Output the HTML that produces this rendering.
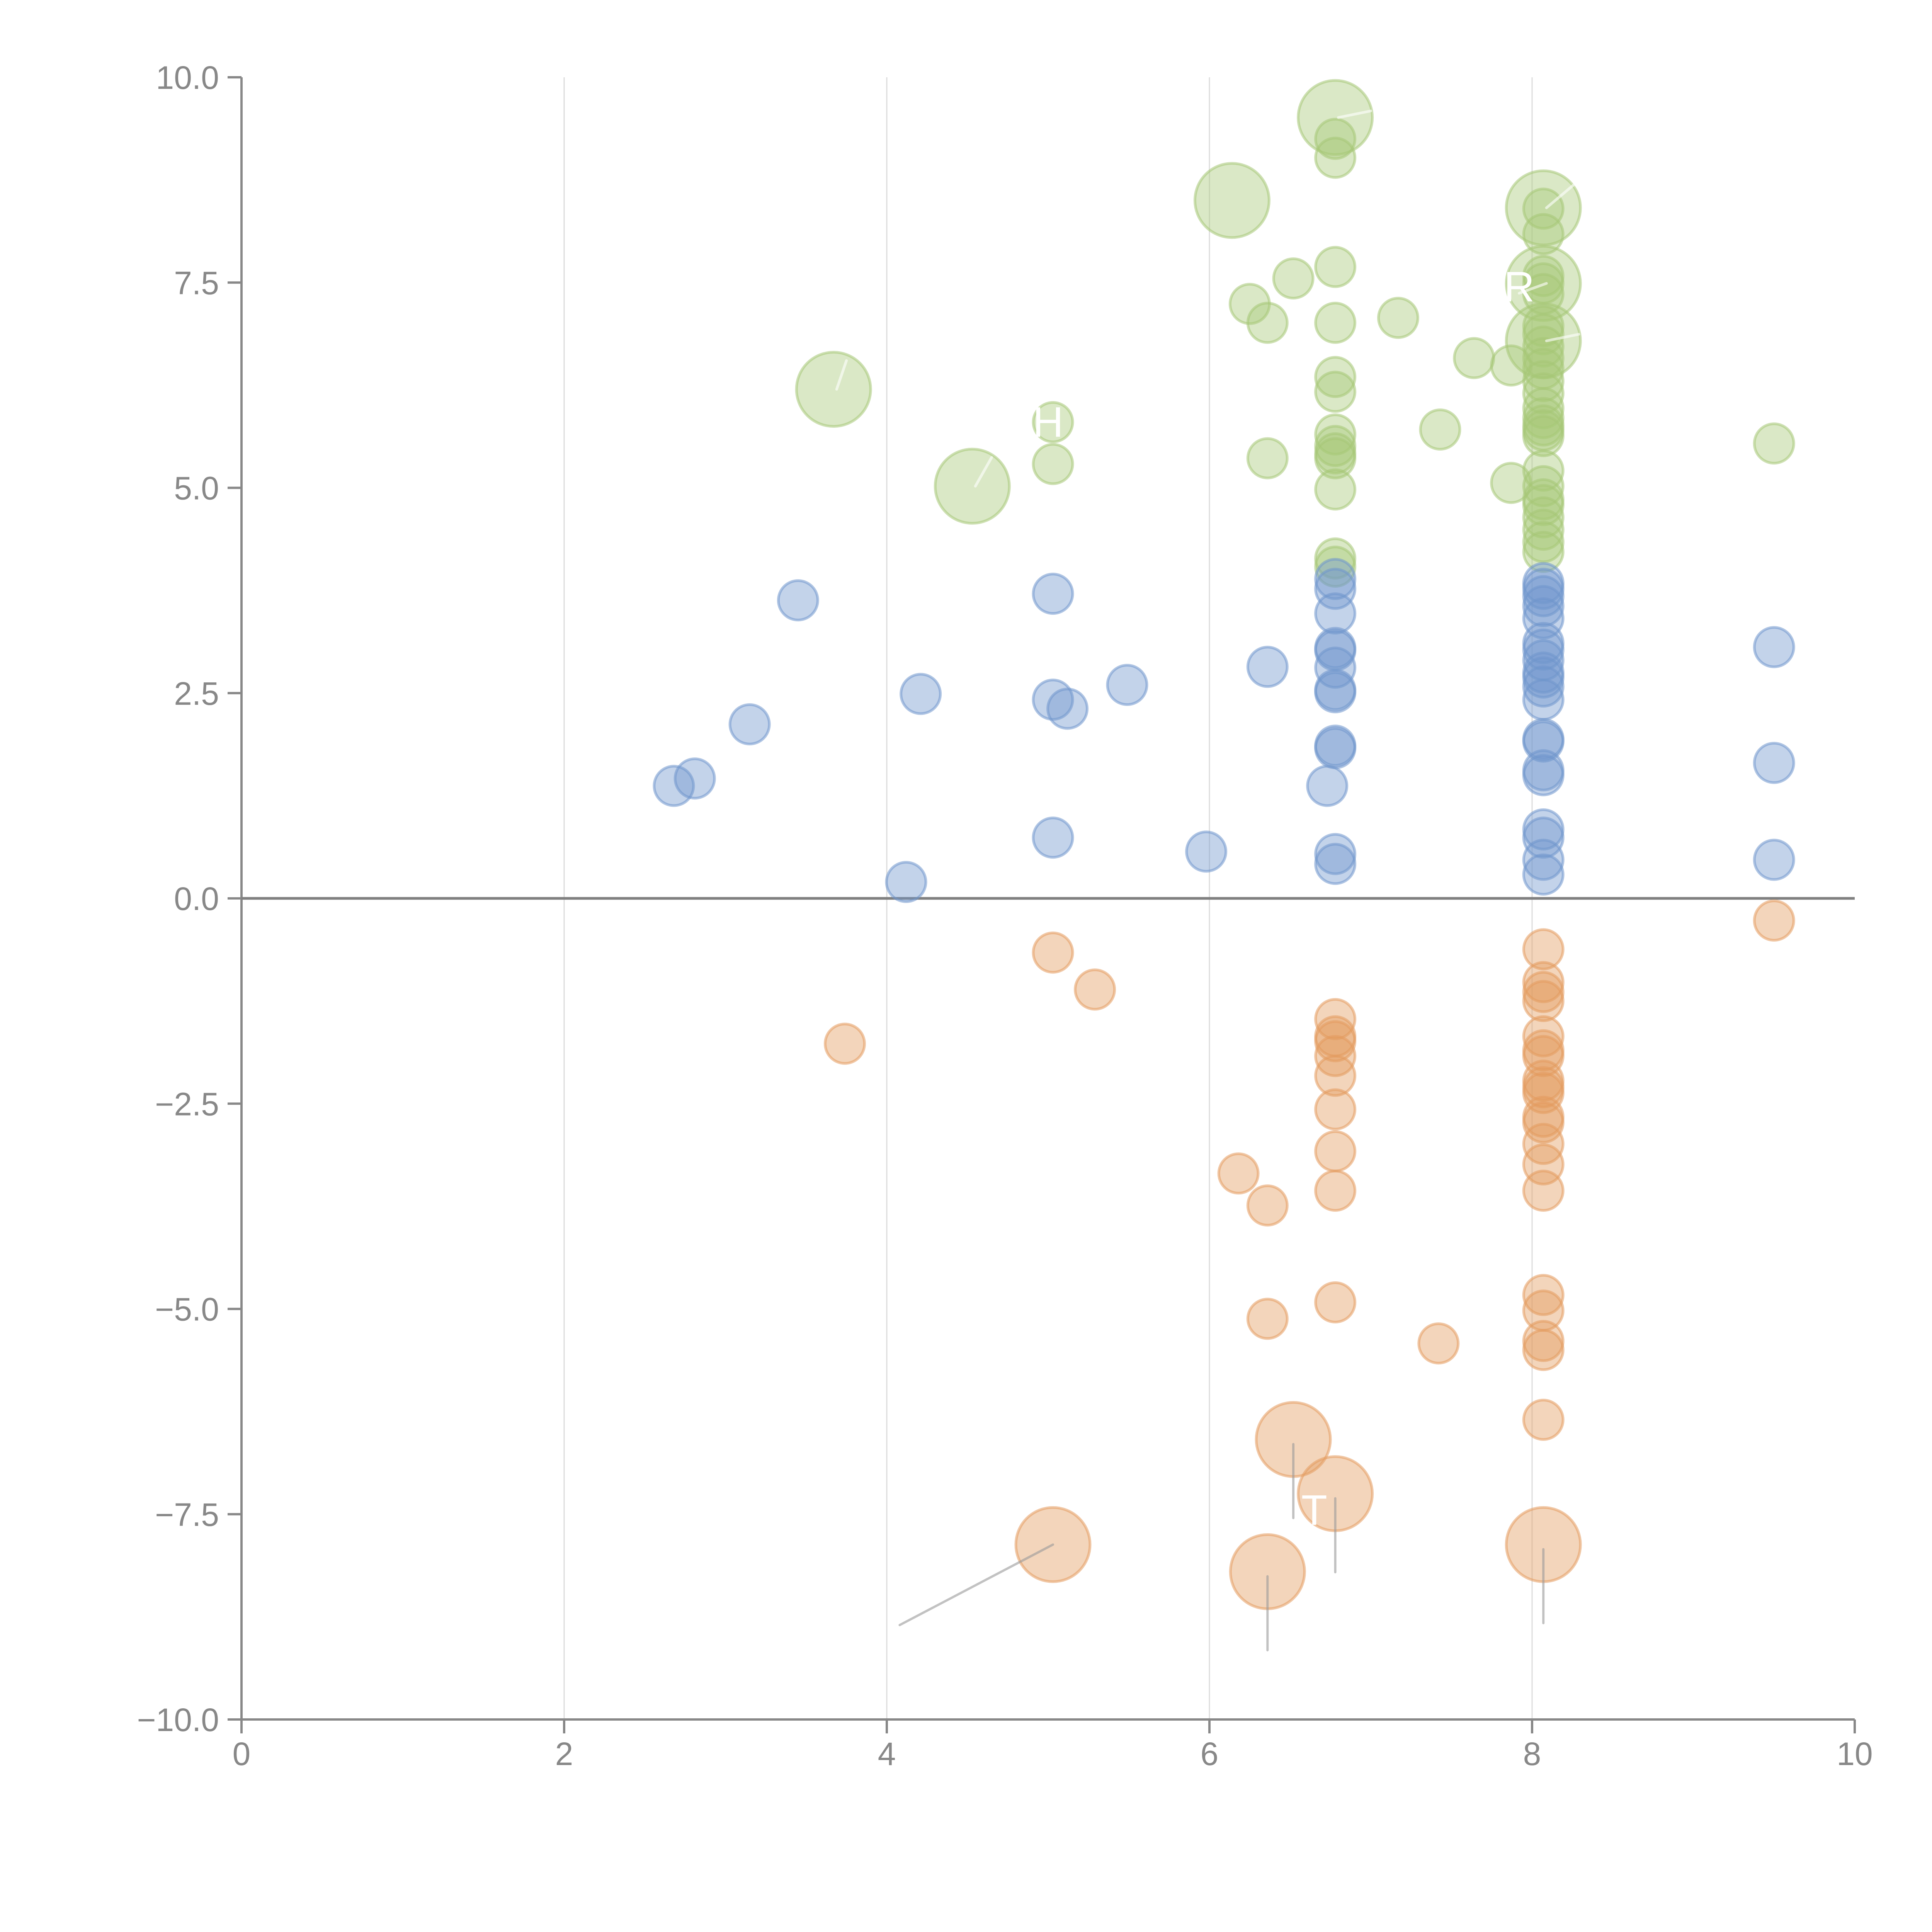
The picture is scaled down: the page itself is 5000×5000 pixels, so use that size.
<!DOCTYPE html>
<html><head><meta charset="utf-8"><style>
html,body{margin:0;padding:0;background:#fff;}
svg{display:block;font-family:"Liberation Sans",Arial,sans-serif;}
</style></head><body>
<svg id="chart" width="5000" height="5000" viewBox="0 0 5000 5000" xmlns="http://www.w3.org/2000/svg">
<g id="grid"></g>
<g id="axes"></g>
<g id="marks"></g>
<g id="labels"></g>
</svg>
<script>
const xTicks=[0,2,4,6,8,10];
const xTickLabels=["0","2","4","6","8","10"];
const yTicks=[-10,-7.5,-5,-2.5,0,2.5,5,7.5,10];
const yTickLabels=["\u221210.0","\u22127.5","\u22125.0","\u22122.5","0.0","2.5","5.0","7.5","10.0"];

const blueX=[2.68,2.81,3.15,3.45,4.12,4.21,5.03,5.03,5.12,5.03,5.49,5.98,6.36,6.73,
6.78,6.78,6.78,6.78,6.78,6.78,6.78,6.78,6.78,6.78,6.78,6.78,
8.07,8.07,8.07,8.07,8.07,8.07,8.07,8.07,8.07,8.07,8.07,8.07,8.07,8.07,8.07,8.07,8.07,8.07,8.07,8.07,
9.5,9.5,9.5];
const blueY=[1.37,1.46,2.12,3.63,0.2,2.49,3.71,2.42,2.31,0.74,2.6,0.57,2.82,1.37,
3.89,3.77,3.47,3.05,3.02,2.81,2.54,2.51,1.86,1.83,0.54,0.42,
3.84,3.77,3.68,3.56,3.41,3.11,3.03,2.9,2.75,2.69,2.58,2.42,1.94,1.91,1.56,1.5,0.84,0.74,0.47,0.29,
3.06,1.65,0.47];

const orangeX=[9.5,5.03,5.29,3.74,6.18,6.36,6.36,7.42,
6.78,6.78,6.78,6.78,6.78,6.78,6.78,6.78,6.78,
8.07,8.07,8.07,8.07,8.07,8.07,8.07,8.07,8.07,8.07,8.07,8.07,8.07,8.07,8.07,8.07,8.07,8.07,8.07,8.07];
const orangeY=[-0.27,-0.66,-1.11,-1.77,-3.35,-3.74,-5.12,-5.42,
-1.47,-1.68,-1.74,-1.92,-2.16,-2.57,-3.08,-3.56,-4.92,
-0.62,-1.02,-1.14,-1.25,-1.68,-1.85,-1.92,-2.22,-2.3,-2.37,-2.66,-2.73,-2.99,-3.24,-3.56,-4.83,-5.02,-5.39,-5.5,-6.35];
const orangeBigX=[5.03,6.52,6.78,6.36,8.07];
const orangeBigY=[-7.87,-6.59,-7.25,-8.2,-7.87];

const greenX=[6.78,6.78,8.07,8.07,8.07,8.07,8.07,
8.07,8.07,8.07,8.07,8.07,8.07,8.07,8.07,8.07,8.07,8.07,8.07,
6.78,6.52,6.25,6.36,6.78,7.17,7.64,7.87,6.78,6.78,5.03,5.03,6.36,
6.78,6.78,6.78,6.78,6.78,7.43,7.87,9.5,6.78,6.78,
8.07,8.07,8.07,8.07,8.07,8.07,8.07,8.07];
const greenY=[9.25,9.02,8.4,8.09,7.58,7.49,7.36,
6.97,6.87,6.72,6.58,6.45,6.3,6.15,5.97,5.85,5.76,5.7,5.63,
7.69,7.55,7.24,7.01,7.01,7.07,6.58,6.49,6.35,6.17,5.8,5.29,5.36,
5.65,5.51,5.42,5.36,4.98,5.71,5.06,5.54,4.14,4.04,
5.21,5.02,4.86,4.79,4.64,4.49,4.34,4.22];
const greenBigX=[6.78,6.14,8.07,8.07,8.07,3.67,4.53];
const greenBigY=[9.51,8.5,8.41,7.49,6.79,6.2,5.02];

const X0=625,X1=4800,Y0=4450,Y1=200;
function sx(v){return X0+(v-0)/(10-0)*(X1-X0);}
function sy(v){return Y0-(v+10)/20*(Y0-Y1);}
const NS="http://www.w3.org/2000/svg";
function mk(tag,attrs,parent){const e=document.createElementNS(NS,tag);for(const k in attrs)e.setAttribute(k,attrs[k]);parent.appendChild(e);return e;}
const grid=document.getElementById('grid'),axes=document.getElementById('axes'),marks=document.getElementById('marks'),labels=document.getElementById('labels');

xTicks.forEach((t,i)=>{
  if(t>0&&t<10){const g=mk('line',{x1:sx(t),x2:sx(t),y1:Y1,y2:Y0,stroke:'#dcdcdc','stroke-width':3},grid);
  
  }
  const tk=mk('line',{x1:sx(t),x2:sx(t),y1:Y0,y2:Y0+36,stroke:'#888','stroke-width':6},axes);
  
  
  const tx=mk('text',{x:sx(t),y:Y0+118,'text-anchor':'middle','font-size':84,fill:'#888'},axes);
  tx.textContent=xTickLabels[i];
  
  
});
yTicks.forEach((t,i)=>{
  const tk=mk('line',{x1:X0-36,x2:X0,y1:sy(t),y2:sy(t),stroke:'#888','stroke-width':6},axes);
  
  
  const tx=mk('text',{x:X0-58,y:sy(t)+30,'text-anchor':'end','font-size':84,fill:'#888'},axes);
  tx.textContent=yTickLabels[i];
  
  
});
const ya=mk('line',{x1:X0,x2:X0,y1:Y1,y2:Y0,stroke:'#888','stroke-width':6},axes);


const xa=mk('line',{x1:X0,x2:X1,y1:Y0,y2:Y0,stroke:'#888','stroke-width':6},axes);


const zl=mk('line',{x1:X0,x2:X1,y1:sy(0),y2:sy(0),stroke:'#808080','stroke-width':7},axes);



function bubbles(xs,ys,r,fill,stroke,name){
  xs.forEach((x,i)=>{
    const c=mk('circle',{cx:sx(x),cy:sy(ys[i]),r:r,fill:fill,'fill-opacity':0.42,stroke:stroke,'stroke-opacity':0.55,'stroke-width':7},marks);
    
    
  });
}
const BLUE='#6f96cc',ORANGE='#e39a5e',GREEN='#a6c777';
bubbles(greenBigX,greenBigY,96,GREEN,GREEN,'green-bubble-large');
bubbles(greenX,greenY,51,GREEN,GREEN,'green-bubble');
bubbles(blueX,blueY,51,BLUE,BLUE,'blue-bubble');
bubbles(orangeX,orangeY,51,ORANGE,ORANGE,'orange-bubble');
bubbles(orangeBigX,orangeBigY,96,ORANGE,ORANGE,'orange-bubble-large');

// leader lines for large orange bubbles
const leadDX=[-0.95,0,0,0,0];
const leadDY=[-0.98,-0.9,-0.9,-0.9,-0.9];
orangeBigX.forEach((x,i)=>{
  const l=mk('line',{x1:sx(x),y1:sy(orangeBigY[i])+(i==0?0:12),x2:sx(x+leadDX[i]),y2:sy(orangeBigY[i]+leadDY[i])+(i==0?0:12),stroke:'#999','stroke-opacity':0.6,'stroke-width':6,'stroke-linecap':'round'},labels);
  
  
});
// white leader lines in large green bubbles
const gLeadDX=[0.22,0,0.2,-0.15,0.22,0.08,0.12];
const gLeadDY=[0.08,0,0.3,-0.12,0.08,0.35,0.35];
greenBigX.forEach((x,i)=>{
  if(!gLeadDX[i]&&!gLeadDY[i])return;
  const l=mk('line',{x1:sx(x)+8,y1:sy(greenBigY[i]),x2:sx(x+gLeadDX[i]),y2:sy(greenBigY[i]+gLeadDY[i]),stroke:'#fff','stroke-opacity':0.6,'stroke-width':7,'stroke-linecap':'round'},labels);
  
  
});
const txtLabels=[["H",5.0,5.8],["R",7.92,7.45],["T",6.65,-7.45]];
txtLabels.forEach(t=>{
  const e=mk('text',{x:sx(t[1]),y:sy(t[2])+38,'text-anchor':'middle','font-size':110,fill:'#fff'},labels);
  e.textContent=t[0];
  
  
});
</script>
</body></html>
